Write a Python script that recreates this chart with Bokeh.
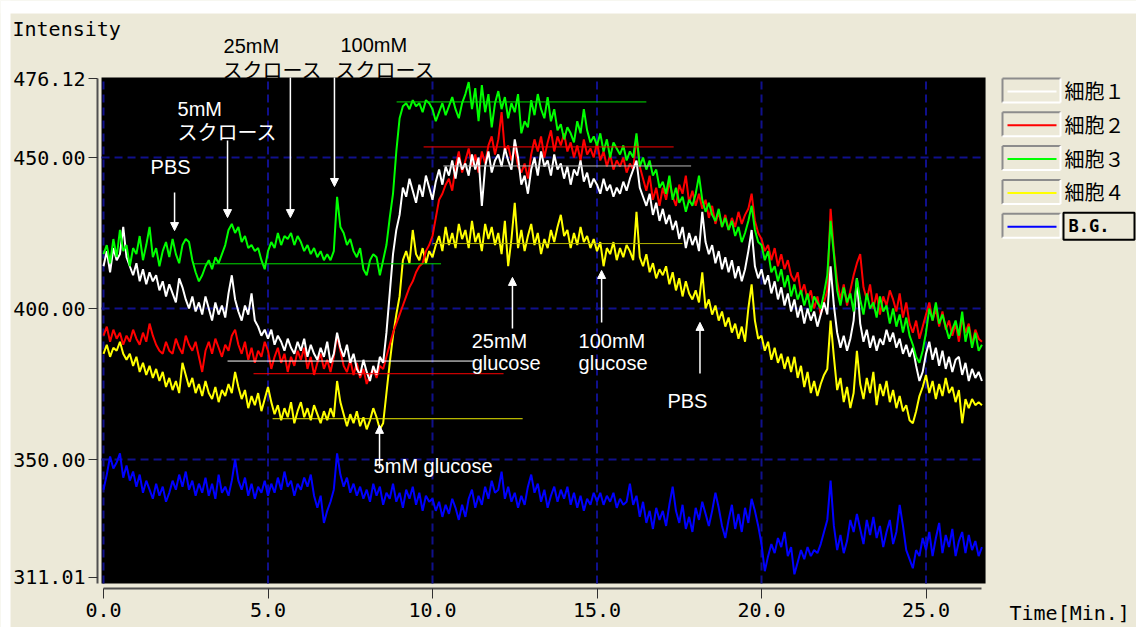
from bokeh.plotting import figure
from bokeh.models import Range1d, FixedTicker, Label, Arrow, NormalHead, LinearAxis, BoxAnnotation
from bokeh.embed import file_html
from bokeh.resources import INLINE
from bokeh.core.properties import value

BEIGE = "#ECE9D8"
DT = 0.1  # minutes between samples

cell1 = [
    414, 419, 412, 420, 416, 418, 427, 417, 414, 411,
    415, 409, 413, 408, 412, 409, 411, 406, 409, 404,
    408, 405, 402, 410, 407, 403, 400, 404, 399, 402,
    398, 404, 400, 396, 402, 398, 401, 397, 405, 411,
    403, 399, 396, 401, 398, 405, 396, 394, 391, 393,
    390, 393, 388, 391, 389, 386, 390, 387, 385, 389,
    386, 390, 384, 388, 385, 383, 387, 384, 389, 382,
    385, 392, 387, 384, 388, 382, 385, 380, 378, 383,
    379, 376, 381, 378, 384, 382, 392, 405, 418, 426,
    431, 440, 437, 443, 439, 435, 441, 437, 444, 440,
    436, 442, 446, 441, 447, 444, 449, 443, 450, 446,
    448, 444, 451, 446, 450, 434, 447, 452, 445, 449,
    451, 447, 453, 449, 446, 456, 450, 441, 444, 438,
    446, 450, 444, 452, 447, 449, 444, 451, 446, 448,
    443, 447, 441, 446, 444, 449, 442, 445, 440, 443,
    441, 438, 443, 439, 441, 437, 440, 438, 442, 439,
    443, 446, 449, 440, 437, 434, 438, 431, 435, 429,
    433, 428, 431, 426, 429, 423, 427, 420, 425, 421,
    424, 419, 432, 422, 418, 421, 415, 419, 413, 417,
    412, 416, 410, 414, 409, 413, 419, 426, 414, 410,
    413, 408, 411, 405, 409, 403, 407, 401, 405, 399,
    403, 397, 401, 395, 400, 396, 399, 394, 398, 402,
    398, 414, 401, 392, 387, 391, 386, 390, 396, 410,
    395, 389, 393, 387, 391, 386, 390, 388, 393, 389,
    392, 387, 390, 385, 388, 384, 387, 381, 376, 379,
    385, 389, 383, 387, 381, 386, 380, 384, 379, 383,
    384, 378, 382, 376, 380, 377, 379, 376,
]

cell2 = [
    391, 394, 389, 393, 390, 392, 388, 391, 389, 393,
    390, 388, 392, 389, 395, 391, 388, 386, 385, 389,
    386, 385, 390, 387, 385, 391, 388, 386, 389, 384,
    379, 386, 389, 385, 390, 387, 384, 388, 386, 391,
    393, 388, 385, 389, 383, 387, 382, 386, 384, 389,
    386, 380, 384, 387, 382, 385, 379, 384, 381, 386,
    383, 387, 380, 384, 378, 382, 385, 380, 383, 379,
    384, 391, 386, 381, 379, 383, 378, 382, 377, 380,
    375, 378, 380, 377, 381, 380, 384, 388, 392, 395,
    398, 401, 404, 407, 409, 412, 414, 415, 419, 421,
    424, 430, 436, 438, 441, 443, 439, 447, 452, 445,
    449, 453, 447, 451, 445, 452, 448, 454, 457, 451,
    456, 465, 452, 454, 449, 453, 447, 445, 448, 443,
    451, 456, 452, 457, 450, 455, 459, 452, 457, 454,
    458, 452, 455, 450, 454, 449, 456, 451, 453, 450,
    455, 449, 452, 447, 451, 446, 449, 447, 450, 445,
    448, 446, 457, 447, 443, 439, 444, 436, 440, 434,
    440, 436, 442, 437, 434, 441, 438, 444, 435, 439,
    434, 438, 433, 436, 430, 434, 428, 432, 427, 431,
    426, 430, 427, 432, 428, 431, 433, 438, 429, 425,
    423, 419, 421, 416, 420, 414, 418, 413, 416, 411,
    409, 412, 405, 408, 403, 406, 400, 404, 398, 402,
    406, 433, 419, 409, 403, 408, 401, 406, 411, 415,
    418, 407, 403, 408, 400, 405, 398, 404, 401, 406,
    403, 399, 405, 397, 402, 395, 392, 396, 390, 394,
    398, 402, 396, 400, 394, 399, 393, 396, 391, 395,
    389, 397, 392, 395, 388, 393, 390, 389,
]

cell3 = [
    418, 421, 415, 423, 417, 426, 419, 421, 414, 420,
    418, 424, 416, 421, 427, 417, 420, 414, 419, 422,
    417, 423, 418, 415, 421, 423, 422, 416, 412, 409,
    411, 414, 416, 413, 417, 415, 418, 421, 426, 428,
    425, 427, 422, 424, 420, 421, 419, 420, 416, 413,
    419, 422, 420, 425, 421, 424, 423, 425, 421, 424,
    422, 419, 421, 418, 420, 417, 419, 416, 418, 416,
    419, 437, 427, 425, 421, 423, 419, 417, 420, 413,
    411, 416, 418, 417, 411, 416, 421, 430, 438, 452,
    463, 467, 468, 466, 469, 467, 468, 465, 469, 468,
    466, 462, 465, 468, 464, 467, 470, 466, 463, 468,
    471, 475, 466, 473, 462, 474, 465, 471, 460, 468,
    472, 466, 470, 463, 468, 465, 471, 458, 462, 460,
    469, 464, 471, 466, 463, 470, 462, 466, 459, 461,
    456, 460, 458, 455, 462, 458, 466, 459, 455, 457,
    454, 458, 452, 456, 450, 455, 453, 451, 454, 449,
    452, 450, 458, 447, 450, 446, 449, 444, 446, 440,
    442, 438, 444, 436, 440, 435, 437, 432, 436, 434,
    438, 444, 436, 432, 435, 431, 429, 433, 427, 430,
    426, 429, 424, 427, 422, 425, 429, 434, 426, 422,
    421, 416, 419, 412, 414, 409, 413, 407, 411, 404,
    408, 403, 406, 401, 405, 399, 404, 402, 400, 405,
    411, 429, 418, 406, 401, 407, 402, 405, 399, 410,
    403, 398, 405, 400, 402, 397, 404, 399, 401, 395,
    400, 394, 398, 392, 397, 391, 388, 384, 382, 386,
    392, 400, 396, 402, 395, 398, 394, 390, 393, 396,
    391, 399, 389, 394, 387, 392, 386, 388,
]

cell4 = [
    385, 388, 384, 387, 386, 389, 385, 383, 385, 381,
    384, 379, 382, 378, 381, 377, 380, 376, 379, 374,
    377, 373, 376, 372, 382, 378, 374, 377, 372, 375,
    371, 376, 372, 370, 374, 369, 373, 371, 375, 372,
    379, 374, 370, 373, 367, 371, 368, 372, 366, 370,
    374, 369, 365, 368, 363, 367, 364, 369, 362, 366,
    369, 364, 367, 363, 368, 365, 362, 366, 363, 367,
    364, 376, 369, 365, 361, 365, 362, 366, 361, 364,
    360, 363, 367, 364, 360, 362, 372, 382, 391, 398,
    404, 416, 419, 415, 426, 418, 416, 420, 415, 419,
    417, 421, 424, 419, 427, 421, 425, 420, 428, 423,
    426, 420, 429, 422, 425, 419, 428, 423, 427, 421,
    425, 418, 429, 414, 423, 435, 420, 426, 419, 424,
    428, 421, 425, 418, 423, 420, 426, 422, 427, 431,
    424, 426, 420, 425, 421, 427, 422, 424, 420, 423,
    419, 422, 414, 420, 418, 422, 416, 420, 417, 421,
    419, 416, 432, 417, 414, 418, 412, 415, 410, 413,
    411, 414, 408, 412, 406, 410, 404, 409, 405, 403,
    406, 402, 412, 400, 403, 398, 401, 396, 399, 394,
    397, 392, 395, 390, 394, 389, 400, 408, 396, 390,
    391, 386, 389, 383, 387, 382, 385, 380, 384, 379,
    384, 377, 381, 374, 379, 372, 376, 371, 375, 378,
    380, 396, 384, 373, 377, 369, 374, 367, 372, 386,
    375, 370, 377, 372, 379, 368, 375, 371, 376, 369,
    373, 367, 371, 366, 368, 363, 362, 366, 371, 374,
    378, 372, 376, 370, 375, 371, 377, 372, 374, 369,
    373, 362, 370, 367, 370, 368, 369, 368,
]

bg = [
    340, 345, 351, 347, 349, 352, 344, 348, 343, 346,
    341, 345, 339, 343, 340, 337, 342, 338, 341, 336,
    339, 343, 340, 345, 341, 346, 340, 343, 338, 342,
    339, 344, 338, 342, 337, 345, 339, 341, 338, 343,
    350, 343, 340, 344, 338, 342, 337, 341, 339, 343,
    338, 342, 339, 344, 340, 346, 341, 343, 338, 342,
    340, 344, 341, 345, 338, 334, 338, 329, 333, 336,
    340, 352, 345, 341, 344, 339, 342, 338, 341, 337,
    340, 336, 342, 338, 341, 335, 339, 337, 342, 336,
    339, 334, 340, 337, 341, 335, 339, 333, 338, 336,
    337, 333, 336, 331, 335, 332, 337, 334, 330, 335,
    331, 337, 340, 334, 338, 335, 341, 337, 343, 339,
    340, 346, 337, 341, 336, 339, 334, 338, 335, 341,
    345, 339, 342, 336, 340, 334, 338, 341, 336, 340,
    337, 341, 335, 339, 334, 338, 333, 337, 335, 339,
    336, 339, 335, 338, 336, 339, 334, 337, 335, 336,
    342, 335, 338, 331, 336, 329, 333, 327, 334, 330,
    333, 328, 335, 341, 333, 329, 335, 327, 331, 326,
    334, 330, 336, 332, 328, 333, 339, 334, 328, 324,
    330, 335, 327, 332, 326, 334, 329, 337, 333, 328,
    322, 313, 318, 322, 319, 324, 321, 326, 318, 321,
    312, 316, 320, 317, 321, 318, 320, 319, 322, 326,
    330, 343, 328, 320, 325, 319, 323, 330, 326, 332,
    327, 322, 330, 325, 331, 324, 328, 321, 326, 330,
    322, 326, 335, 328, 320, 317, 314, 320, 318, 324,
    320, 326, 318, 324, 329, 319, 325, 321, 327, 318,
    323, 326, 319, 325, 320, 323, 318, 321,
]

time_min = [round(i * DT, 1) for i in range(len(cell1))]

series_names = ["細胞１", "細胞２", "細胞３", "細胞４", "B.G."]
series_colors = ["#ffffff", "#ff0000", "#00ff00", "#ffff00", "#0000ff"]
series_values = [cell1, cell2, cell3, cell4, bg]
draw_order = [4, 3, 1, 0, 2]

y_ticks = [311.01, 350, 400, 450, 476.12]
y_tick_labels = ["311.01", "350.00", "400.00", "450.00", "476.12"]
x_ticks = [0, 5, 10, 15, 20, 25]
x_tick_labels = ["0.0", "5.0", "10.0", "15.0", "20.0", "25.0"]
grid_y = [350, 400, 450]

# reference level lines: value, start time, end time, colour
level_v = [468.4, 453.5, 447.2, 421.5, 414.8, 382.6, 378.4, 363.5]
level_t0 = [8.91, 9.73, 10.33, 10.0, 2.74, 3.77, 4.56, 5.14]
level_t1 = [16.5, 17.33, 17.86, 17.6, 10.26, 11.3, 12.16, 12.74]
level_color = ["#00e000", "#ff0000", "#b8b8b8", "#b4b400",
               "#00e000", "#ffffff", "#ff0000", "#e8e800"]

# arrows marking events
down_t = [2.16, 3.77, 5.68, 7.02]
down_from = [438.4, 455.6, 476.5, 476.5]
down_to = [425.8, 430.1, 430.1, 440.4]
up_t = [8.39, 12.43, 15.14, 18.13]
up_from = [347.0, 393.4, 395.4, 378.5]
up_to = [361.3, 410.3, 412.6, 395.4]

note_text = ["PBS", "5mM", "スクロース", "25mM", "スクロース", "100mM", "スクロース",
             "25mM", "glucose", "100mM", "glucose", "PBS", "5mM glucose"]
note_t = [1.43, 2.25, 2.25, 3.65, 3.62, 7.20, 7.05, 11.19, 11.19, 14.44, 14.44, 17.14, 8.21]
note_v = [446.7, 466.2, 458.6, 486.8, 479.1, 487.1, 479.1, 389.1, 382.1, 389.1, 382.1, 369.5, 348.0]
note_color = ["white", "white", "white", "black", "black", "black", "black",
              "white", "white", "white", "white", "white", "white"]

W, H = 1136, 627
T_MIN, T_MAX = -0.06, 26.81      # visible plot area (black)
V_MIN, V_MAX = 308.9, 476.5


def px2t(x):
    return (x - 103) / 32.9


def px2v(y):
    return 450 - (y - 157) / 3.02


p = figure(width=W, height=H, output_backend="svg", toolbar_location=None,
           x_range=Range1d(px2t(0), px2t(W)), y_range=Range1d(px2v(H), px2v(0)),
           x_axis_type=None, y_axis_type=None, min_border=0,
           background_fill_color=BEIGE, border_fill_color=BEIGE, outline_line_color=None)

# page strips and black plotting area
p.add_layout(BoxAnnotation(left=px2t(0), right=px2t(W), top=px2v(0), bottom=px2v(13),
                           fill_color="white", fill_alpha=1, line_color=None, level="underlay"))
p.add_layout(BoxAnnotation(left=px2t(0), right=px2t(10), top=px2v(0), bottom=px2v(H),
                           fill_color="white", fill_alpha=1, line_color=None, level="underlay"))
p.add_layout(BoxAnnotation(left=T_MIN, right=T_MAX, bottom=V_MIN, top=V_MAX,
                           fill_color="black", fill_alpha=1, line_color=None, level="underlay"))

# axes
yax = LinearAxis(fixed_location=px2t(97), bounds=(V_MIN, y_ticks[-1]),
                 ticker=FixedTicker(ticks=y_ticks),
                 major_label_overrides={k: v for k, v in zip(y_ticks, y_tick_labels)})
xax = LinearAxis(fixed_location=px2v(588), bounds=(x_ticks[0], time_min[-1]),
                 ticker=FixedTicker(ticks=x_ticks),
                 major_label_overrides={k: v for k, v in zip(x_ticks, x_tick_labels)})
for ax in (yax, xax):
    ax.major_label_text_font = "DejaVu Sans Mono"
    ax.major_label_text_font_size = "20px"
    ax.major_label_text_color = "black"
    ax.axis_line_color = "#505050"
    ax.axis_line_width = 2
    ax.major_tick_line_color = "#303030"
    ax.major_tick_line_width = 1
    ax.major_tick_in = 0
    ax.minor_tick_line_color = None
yax.major_tick_out = 9
yax.major_label_standoff = 3
xax.major_tick_out = 10
xax.major_label_standoff = 4
p.add_layout(yax, "left")
p.add_layout(xax, "below")

# dashed grid inside the plotting area
grid_kw = dict(line_color="#10108c", line_dash="8 5", line_width=2)
p.segment(x0=x_ticks, y0=[V_MIN] * len(x_ticks), x1=x_ticks, y1=[V_MAX] * len(x_ticks), **grid_kw)
p.segment(x0=[T_MIN] * len(grid_y), y0=grid_y, x1=[T_MAX] * len(grid_y), y1=grid_y, **grid_kw)

for i in draw_order:
    p.line(time_min, series_values[i], line_color=series_colors[i], line_width=2)

p.segment(x0=level_t0, y0=level_v, x1=level_t1, y1=level_v, line_color=level_color, line_width=1)

for ts, froms, tos in ((down_t, down_from, down_to), (up_t, up_from, up_to)):
    for t, a, b in zip(ts, froms, tos):
        p.add_layout(Arrow(x_start=t, y_start=a, x_end=t, y_end=b, line_color="white", line_width=1.5,
                           end=NormalHead(size=8, fill_color="white", line_color="white")))

for txt, t, v, c in zip(note_text, note_t, note_v, note_color):
    font = "Noto Sans CJK JP" if any(ord(ch) > 255 for ch in txt) else "Liberation Sans"
    p.add_layout(Label(x=t, y=v, text=txt, text_color=c, text_font=font, text_font_size="20px",
                       text_align="left", text_baseline="middle"))

# axis titles
p.add_layout(Label(x=px2t(12), y=px2v(28), text="Intensity", text_color="black",
                   text_font="DejaVu Sans Mono", text_font_size="20px",
                   text_align="left", text_baseline="middle"))
p.add_layout(Label(x=px2t(1009), y=px2v(612), text="Time[Min.]", text_color="black",
                   text_font="DejaVu Sans Mono", text_font_size="20px",
                   text_align="left", text_baseline="middle"))

# legend (drawn as in the original software, with sunken sample boxes)
n = len(series_names)
tops_px = [78 + 33.8 * i for i in range(n)]
tops = [px2v(y) for y in tops_px]
bots = [px2v(y + 24) for y in tops_px]
mids = [px2v(y + 13) for y in tops_px]
txt_y = [px2v(y + 12) for y in tops_px]
bx0, bx1 = px2t(1002), px2t(1060)
p.segment(x0=[bx0] * n, y0=tops, x1=[bx1] * n, y1=tops, line_color="#8c8c8c", line_width=2)
p.segment(x0=[bx0] * n, y0=tops, x1=[bx0] * n, y1=bots, line_color="#8c8c8c", line_width=2)
p.segment(x0=[bx0] * n, y0=bots, x1=[bx1] * n, y1=bots, line_color="white", line_width=2)
p.segment(x0=[bx1] * n, y0=tops, x1=[bx1] * n, y1=bots, line_color="white", line_width=2)
p.segment(x0=[px2t(1007)] * n, y0=mids, x1=[px2t(1056)] * n, y1=mids,
          line_color=series_colors, line_width=2)
p.text(x=[px2t(1064)] * (n - 1), y=txt_y[:-1], text=series_names[:-1],
       text_font=value("Noto Sans CJK JP"), text_font_size="20px", text_color="black",
       text_baseline="middle", text_align="left")
p.quad(left=[px2t(1063)], right=[px2t(1134)], top=[px2v(tops_px[-1] - 1)],
       bottom=[px2v(tops_px[-1] + 26)], fill_color=None, line_color="black", line_width=2)
p.text(x=[px2t(1068)], y=[txt_y[-1]], text=[series_names[-1]],
       text_font=value("DejaVu Sans Mono"), text_font_style="bold", text_font_size="17px",
       text_color="black", text_baseline="middle", text_align="left")

open("out.html", "w").write(file_html(p, INLINE))
